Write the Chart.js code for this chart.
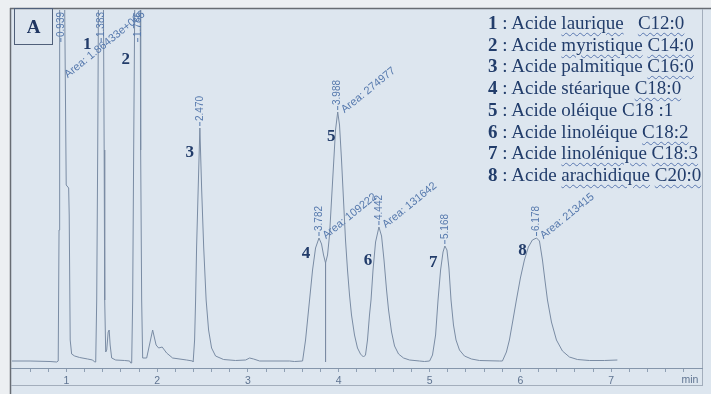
<!DOCTYPE html>
<html>
<head>
<meta charset="utf-8">
<script src="https://cdn.jsdelivr.net/npm/chart.js@4"></script>
<style>
body { margin:0; background:#dde6ef; }
#wrap { position:relative; width:711px; height:394px; }
#tag {
  position:absolute; left:14px; top:8px; width:39px; height:37px;
  box-sizing:border-box; border:1.5px solid #50607a;
  font:bold 19px "Liberation Serif", serif; color:#1f3662;
  text-align:center; line-height:35px;
}
#key {
  position:absolute; left:488px; top:12px;
  font:19px "Liberation Serif", "Times New Roman", serif; color:#223d6b;
  line-height:21.7px; white-space:pre;
}
#key b { font-weight:bold; }
#key u {
  text-decoration:underline wavy #5a78b0;
  text-decoration-thickness:1px; text-underline-offset:3px;
}
</style>
</head>
<body>
<div id="wrap">
<canvas id="chart" width="711" height="394"></canvas>
<div id="tag">A</div>
<div id="key"><b>1</b> : Acide <u>laurique</u>   <u>C12:0</u>
<b>2</b> : Acide <u>myristique</u> <u>C14:0</u>
<b>3</b> : Acide palmitique <u>C16:0</u>
<b>4</b> : Acide stéarique <u>C18:0</u>
<b>5</b> : Acide oléique C18 :1
<b>6</b> : Acide linoléique <u>C18:2</u>
<b>7</b> : Acide <u>linolénique</u> <u>C18:3</u>
<b>8</b> : Acide <u>arachidique</u> <u>C20:0</u></div>
</div>
<script>
// detector trace, retention time in min
const times = [
  0.40, 0.60, 0.82, 0.893, 0.910, 0.919, 0.926, 0.976, 0.998, 1.025, 1.031, 1.042, 1.058, 1.091, 1.146, 1.234, 1.289, 1.311,
  1.323, 1.334, 1.345, 1.356, 1.405, 1.416, 1.422, 1.433, 1.444, 1.460, 1.471, 1.482, 1.499, 1.543, 1.642, 1.697, 1.708,
  1.719, 1.730, 1.741, 1.757, 1.812, 1.818, 1.829, 1.840, 1.884, 1.950, 1.988, 2.016, 2.055, 2.104, 2.170, 2.324, 2.390,
  2.396, 2.412, 2.423, 2.434, 2.451, 2.470, 2.490, 2.512, 2.539, 2.566, 2.599, 2.643, 2.731, 2.863, 2.974, 3.018, 3.062, 3.128, 3.458, 3.513,
  3.601, 3.634, 3.656, 3.678, 3.711, 3.744, 3.782, 3.810, 3.832, 3.854, 3.876, 3.898, 3.920, 3.942, 3.964, 3.988, 4.008, 4.030, 4.052, 4.074,
  4.096, 4.118, 4.140, 4.173, 4.206, 4.239, 4.272, 4.294, 4.316, 4.338, 4.355, 4.377, 4.405, 4.442, 4.471, 4.498, 4.526, 4.548, 4.581, 4.614,
  4.658, 4.713, 4.779, 4.889, 4.944,
  5.000, 5.032, 5.066, 5.093, 5.121, 5.148, 5.168, 5.191, 5.213, 5.236, 5.263, 5.291, 5.329, 5.384, 5.461, 5.549, 5.769,
  5.802, 5.846, 5.879, 5.918, 5.956, 6.000, 6.044, 6.088, 6.132, 6.178, 6.210, 6.243, 6.270, 6.298, 6.342, 6.397, 6.463, 6.540, 6.628, 6.760, 6.925, 7.068
];

const signal = [
  1, 1, 0.5, 0, 1, 132, 412, 412, 177, 174, 147, 22, 8, 6, 4.5, 3, 2, 0,
  0, 62, 212, 412, 412, 212, 62, 10, 12, 30, 32, 17, 4, 2, 1.5, 1, -1,
  -1, 62, 212, 412, 412, 212, 62, 4, 4, 32, 17, 14, 15, 9, 4, 2, 1,
  0, 22, 62, 115, 172, 234, 172, 115, 62, 32, 14, 6, 2.5, 1.5, 2, 4, 3, 1, 1, 0.5,
  1, 22, 42, 62, 92, 114, 124, 118, 107, 99, 107, 127, 162, 197, 232, 250, 237, 202, 162, 122,
  92, 67, 47, 27, 14, 8, 5, 7, 22, 47, 62, 92, 120, 135, 126, 102, 72, 52, 30, 16,
  8, 4, 2, 1, 0.5,
  1, 7, 27, 62, 92, 110, 116, 112, 94, 62, 37, 22, 12, 6, 3, 1.5, 1,
  1, 10, 22, 42, 62, 84, 102, 115, 122, 124, 121, 102, 82, 62, 40, 22, 11, 5, 2.5, 1.5, 1.5, 2
];

const peakTimes = [0.939, 1.383, 1.786, 2.470, 3.782, 3.988, 4.442, 5.168, 6.178];
const peakAreas = ["1.86433e+006", null, null, null, "109222", "274977", "131642", null, "213415"];
const peakIds = [null, 1, 2, 3, 4, 5, 6, 7, 8];

// split between peaks 4 and 5
const dropTime = 3.854;

const tracePoints = times.map((t, i) => ({ x: t, y: signal[i] }));
const dropPoints = [
  { x: dropTime, y: signal[times.indexOf(dropTime)] },
  { x: dropTime, y: 0 }
];

const inkBlue = "#5679ad";
const traceGrey = "#7a8ca4";
const numOffsets = {
  1: [-14, 1], 2: [-12, 16], 3: [-10, 25], 4: [-13, 16],
  5: [-6.5, 25], 6: [-11, 34], 7: [-11.5, 17], 8: [-14, 13]
};

const annotate = {
  id: "annotate",
  beforeDraw(chart) {
    const c = chart.ctx;
    c.save();
    c.fillStyle = "#dde6ef";
    c.fillRect(0, 0, 711, 394);
    c.fillStyle = "#eceff2";
    c.fillRect(0, 0, 711, 8);
    c.fillRect(0, 0, 10, 394);
    c.lineWidth = 1.5;
    c.strokeStyle = "#676c73";
    c.beginPath();
    c.moveTo(10, 8.5); c.lineTo(711, 8.5);
    c.moveTo(10.5, 8); c.lineTo(10.5, 394);
    c.stroke();
    c.lineWidth = 1;
    c.strokeStyle = "#a3aebc";
    c.beginPath();
    c.moveTo(702.5, 9); c.lineTo(702.5, 386);
    c.moveTo(11, 385.5); c.lineTo(703, 385.5);
    c.stroke();
    c.restore();
  },
  afterDatasetsDraw(chart) {
    const { ctx, scales: { x, y } } = chart;
    ctx.save();
    ctx.fillStyle = inkBlue;
    ctx.strokeStyle = inkBlue;
    peakTimes.forEach((rt, i) => {
      let top = 0;
      times.forEach((t, j) => {
        if (Math.abs(t - rt) < 0.03) top = Math.max(top, signal[j]);
      });
      const px = x.getPixelForValue(rt);
      const clipped = top > y.max;
      const py = clipped ? 44 : y.getPixelForValue(top);

      // retention time, written upward above the apex
      ctx.save();
      ctx.translate(px, py - 2);
      ctx.rotate(-Math.PI / 2);
      ctx.lineWidth = 1;
      ctx.beginPath();
      ctx.moveTo(0, 0); ctx.lineTo(4, 0);
      ctx.stroke();
      ctx.font = '10px "Liberation Sans", Arial, sans-serif';
      ctx.textBaseline = "middle";
      ctx.textAlign = "left";
      ctx.fillText(rt.toFixed(3), 5, 0);
      ctx.restore();

      if (peakAreas[i]) {
        ctx.save();
        ctx.translate(px + 5, clipped ? 76 : py - 1);
        ctx.rotate(-39 * Math.PI / 180);
        ctx.font = '11px "Liberation Sans", Arial, sans-serif';
        ctx.textBaseline = "middle";
        ctx.textAlign = "left";
        ctx.fillText("Area: " + peakAreas[i], 0, 0);
        ctx.restore();
      }

      if (peakIds[i]) {
        const [dx, dy] = numOffsets[peakIds[i]];
        ctx.save();
        ctx.font = 'bold 17px "Liberation Serif", serif';
        ctx.fillStyle = "#223c6a";
        ctx.textAlign = "center";
        ctx.textBaseline = "middle";
        ctx.fillText(String(peakIds[i]), px + dx, py + dy);
        ctx.restore();
      }
    });

    ctx.font = '10.5px "Liberation Sans", Arial, sans-serif';
    ctx.fillStyle = "#5f7491";
    ctx.textAlign = "center";
    ctx.textBaseline = "middle";
    ctx.fillText("min", 690, 380);
    ctx.restore();
  }
};

new Chart(document.getElementById("chart"), {
  type: "line",
  data: {
    datasets: [
      { data: tracePoints, borderColor: traceGrey, borderWidth: 1, pointRadius: 0, tension: 0 },
      { data: dropPoints, borderColor: traceGrey, borderWidth: 1, pointRadius: 0 }
    ]
  },
  options: {
    responsive: false,
    animation: false,
    devicePixelRatio: 1,
    layout: { padding: { left: 11, right: 9, top: 10, bottom: 0 } },
    plugins: { legend: { display: false }, tooltip: { enabled: false } },
    scales: {
      x: {
        type: "linear",
        min: 0.39,
        max: 8,
        afterBuildTicks(scale) {
          scale.ticks = scale.ticks.filter(t =>
            Math.abs(t.value * 5 - Math.round(t.value * 5)) < 1e-6 && t.value < 7.9);
        },
        afterFit(scale) { scale.height = 26; },
        ticks: {
          stepSize: 0.2,
          autoSkip: false,
          maxRotation: 0,
          padding: 3,
          color: "#5f7491",
          font: { family: '"Liberation Sans", Arial, sans-serif', size: 10.5 },
          callback: v => {
            const r = Math.round(v);
            return Math.abs(v - r) < 1e-6 && r >= 1 && r <= 7 ? String(r) : "";
          }
        },
        grid: { drawOnChartArea: false, drawTicks: true, tickLength: 4, color: "#8fa0b4" },
        border: { color: "#8596ab", width: 1 }
      },
      y: { display: false, min: -6, max: 352 }
    }
  },
  plugins: [annotate]
});
</script>
</body>
</html>
